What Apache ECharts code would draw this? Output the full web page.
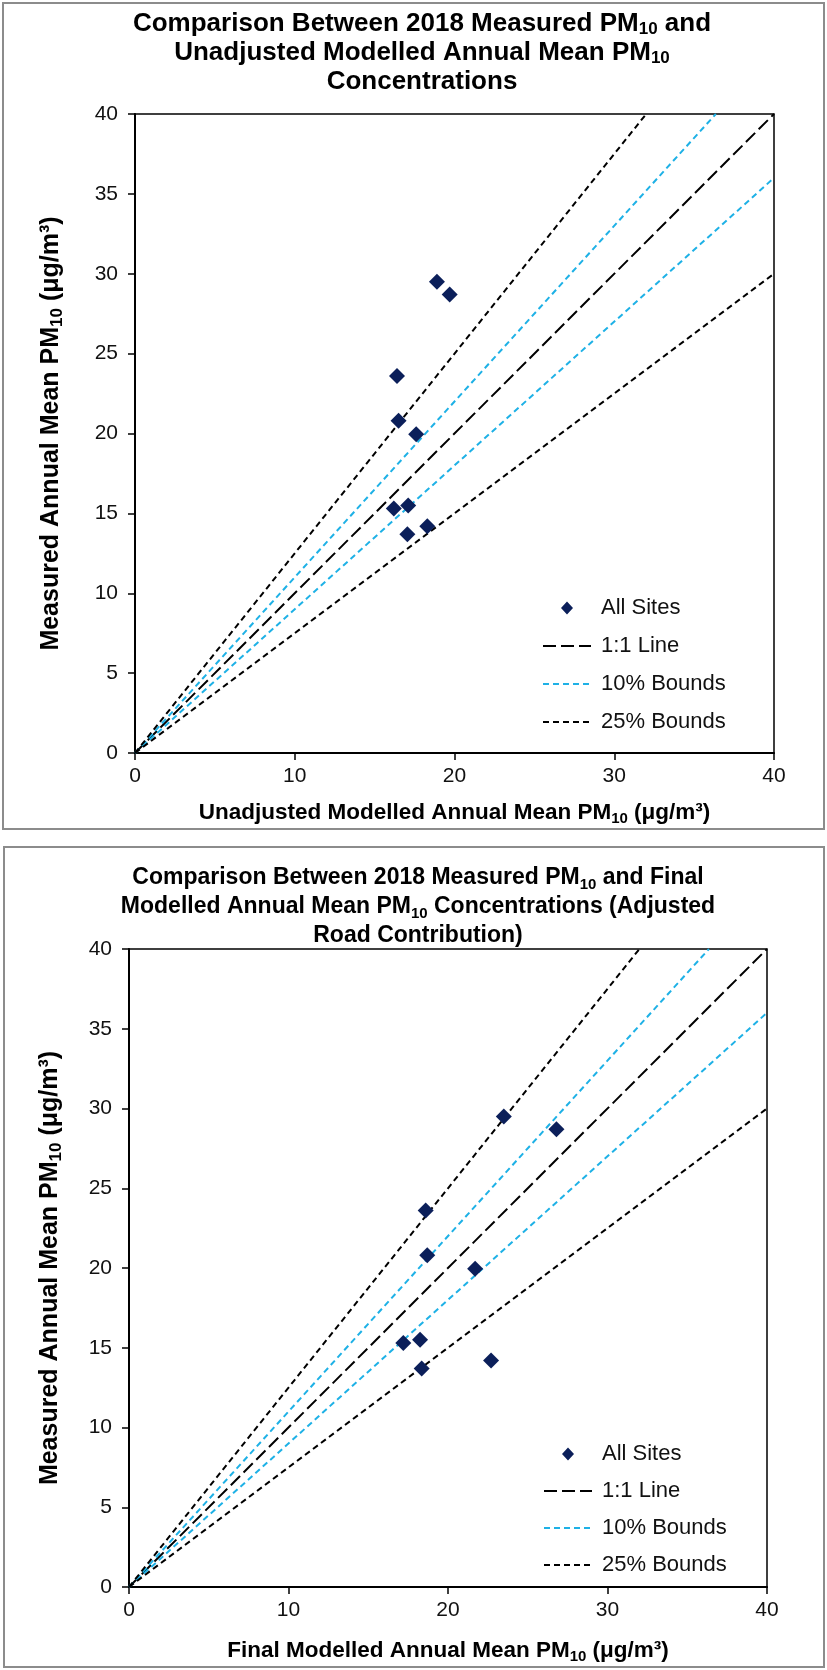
<!DOCTYPE html>
<html><head><meta charset="utf-8">
<script src="https://cdn.jsdelivr.net/npm/echarts@6/dist/echarts.min.js"></script>
<style>html,body{margin:0;padding:0;background:#fff}#c{width:827px;height:1670px}</style>
</head><body><div id="c"></div>
<script>
// Measured annual mean PM10 at each site (same in both charts)
const measured = [29.5, 28.7, 23.6, 20.8, 19.95, 15.3, 15.5, 13.7, 14.2];
// Unadjusted modelled annual mean PM10 (chart 1 x values)
const unadjusted = [18.9, 19.7, 16.4, 16.5, 17.6, 16.2, 17.1, 17.05, 18.3];
// Final modelled annual mean PM10 (chart 2 x values)
const finalModelled = [23.5, 26.8, 18.6, 18.7, 21.7, 17.2, 18.25, 18.35, 22.7];
// Reference lines (x, y) end points
const oneToOne = [[0, 0], [40, 40]];
const tenUpper = [[0, 0], [36.36, 40]];
const tenLower = [[0, 0], [40, 36]];
const quarterUpper = [[0, 0], [32, 40]];
const quarterLower = [[0, 0], [40, 30]];
const xTickLabels = ['0', '10', '20', '30', '40'];
const yTickLabels = ['0', '5', '10', '15', '20', '25', '30', '35', '40'];
const legendNames = ['All Sites', '1:1 Line', '10% Bounds', '25% Bounds'];

const FONT = "'Liberation Sans', Arial, sans-serif";
const pts = (xs) => xs.map((x, i) => [x, measured[i]]);

function titleRich(size, lh) {
  return {
    b: {fontFamily: FONT, fontWeight: 'bold', fontSize: size, lineHeight: lh, color: '#000'},
    s: {fontFamily: FONT, fontWeight: 'bold', fontSize: Math.round(size * 0.64), lineHeight: Math.round(lh * 0.52), verticalAlign: 'bottom', color: '#000'}
  };
}
function nameRich(size, lh) {
  return {
    b: {fontFamily: FONT, fontWeight: 'bold', fontSize: size, lineHeight: lh, color: '#000'},
    s: {fontFamily: FONT, fontWeight: 'bold', fontSize: Math.round(size * 0.66), lineHeight: Math.round(lh * 0.52), verticalAlign: 'bottom', color: '#000'}
  };
}

function xAx(idx, name, gap) {
  return {
    gridIndex: idx, type: 'value', min: 0, max: 40, interval: 10,
    name: name, nameLocation: 'middle', nameGap: gap,
    nameTextStyle: {rich: nameRich(22.5, 27)},
    axisLine: {show: true, onZero: false, lineStyle: {color: '#000', width: 2}},
    axisTick: {show: true, inside: false, length: 7, lineStyle: {color: '#000', width: 1.5}},
    axisLabel: {fontFamily: FONT, fontSize: 21, color: '#111', margin: 13,
      formatter: (v) => xTickLabels[Math.round(v / 10)]},
    splitLine: {show: false}
  };
}
function yAx(idx, name, gap) {
  return {
    gridIndex: idx, type: 'value', min: 0, max: 40, interval: 5,
    name: name, nameLocation: 'middle', nameGap: gap, nameRotate: 90,
    nameTextStyle: {rich: nameRich(25, 30)},
    axisLine: {show: true, onZero: false, lineStyle: {color: '#000', width: 2}},
    axisTick: {show: true, inside: false, length: 7, lineStyle: {color: '#000', width: 1.5}},
    axisLabel: {fontFamily: FONT, fontSize: 21, color: '#111', margin: 17,
      formatter: (v) => yTickLabels[Math.round(v / 5)]},
    splitLine: {show: false}
  };
}

const CYAN = '#1EB1E6';
const NAVY = '#0B1F5A';
function seriesFor(idx, xs) {
  const base = {xAxisIndex: idx, yAxisIndex: idx};
  const line = (name, data, color, dash) => Object.assign({
    type: 'line', name: name, data: data, symbol: 'none', showSymbol: false, silent: true,
    lineStyle: {color: color, width: 2, type: dash}, itemStyle: {color: color}, z: 2
  }, base);
  return [
    Object.assign({type: 'scatter', name: 'All Sites', data: pts(xs), symbol: 'diamond', symbolSize: 16,
      itemStyle: {color: NAVY, opacity: 1}, z: 5}, base),
    line('1:1 Line', oneToOne, '#000', [13, 5]),
    line('10% Bounds', tenUpper, CYAN, [6, 4]),
    line('10% Bounds', tenLower, CYAN, [6, 4]),
    line('25% Bounds', quarterUpper, '#000', [6, 4]),
    line('25% Bounds', quarterLower, '#000', [6, 4])
  ];
}

// diamond centred in a 48x13 box (degenerate sub-paths fix the box width)
const DIAMOND_ICON = 'path://M0,6.5L0,6.5ZM48,6.5L48,6.5ZM18,6.5L24,0L30,6.5L24,13Z';
function legendAt(left, top, gap) {
  return {
    orient: 'vertical', left: left, top: top, itemWidth: 48, itemHeight: 13, itemGap: gap,
    selectedMode: false,
    data: legendNames.map((n, i) => i === 0
      ? {name: n, icon: DIAMOND_ICON, itemStyle: {color: NAVY}}
      : {name: n, itemStyle: {opacity: 0}}),
    textStyle: {fontFamily: FONT, fontSize: 22, color: '#111', lineHeight: 22, padding: [0, 0, 0, 5]}
  };
}

const chart = echarts.init(document.getElementById('c'), null, {renderer: 'canvas'});
chart.setOption({
  backgroundColor: '#fff',
  animation: false,
  title: [
    {text: '{b|Comparison Between 2018 Measured PM}{s|10}{b| and}\n{b|Unadjusted Modelled Annual Mean PM}{s|10}\n{b|Concentrations}',
      left: 422, top: 9, textAlign: 'center', padding: 0, textStyle: {rich: titleRich(26, 29)}},
    {text: '{b|Comparison Between 2018 Measured PM}{s|10}{b| and Final}\n{b|Modelled Annual Mean PM}{s|10}{b| Concentrations (Adjusted}\n{b|Road Contribution)}',
      left: 418, top: 863, textAlign: 'center', padding: 0, textStyle: {rich: titleRich(23, 29)}}
  ],
  graphic: [
    {type: 'rect', shape: {x: 3, y: 3, width: 821, height: 826}, style: {fill: 'none', stroke: '#8c8c8c', lineWidth: 2}, silent: true},
    {type: 'rect', shape: {x: 4, y: 847, width: 820, height: 820}, style: {fill: 'none', stroke: '#8c8c8c', lineWidth: 2}, silent: true}
  ],
  grid: [
    {left: 135, top: 114, width: 639, height: 639, show: true, borderColor: '#000', borderWidth: 1.5, backgroundColor: 'transparent'},
    {left: 129, top: 949, width: 638, height: 638, show: true, borderColor: '#000', borderWidth: 1.5, backgroundColor: 'transparent'}
  ],
  xAxis: [
    xAx(0, '{b|Unadjusted Modelled Annual Mean PM}{s|10}{b| (μg/m³)}', 46),
    xAx(1, '{b|Final Modelled Annual Mean PM}{s|10}{b| (μg/m³)}', 50)
  ],
  yAxis: [
    yAx(0, '{b|Measured Annual Mean PM}{s|10}{b| (μg/m³)}', 69),
    yAx(1, '{b|Measured Annual Mean PM}{s|10}{b| (μg/m³)}', 64)
  ],
  legend: [legendAt(537, 592, 16), legendAt(538, 1438, 15)],
  series: seriesFor(0, unadjusted).concat(seriesFor(1, finalModelled))
});
</script></body></html>
